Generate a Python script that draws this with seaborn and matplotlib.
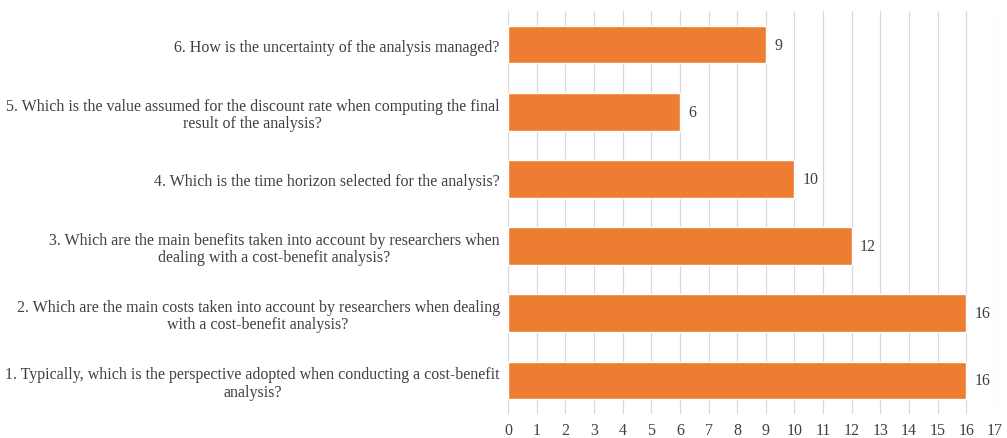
import matplotlib
matplotlib.use("Agg")
import matplotlib.pyplot as plt
import seaborn as sns
import pandas as pd

questions = [
    "6. How is the uncertainty of the analysis managed?",
    "5. Which is the value assumed for the discount rate when computing the final\nresult of the analysis?",
    "4. Which is the time horizon selected for the analysis?",
    "3. Which are the main benefits taken into account by researchers when\ndealing with a cost-benefit analysis?",
    "2. Which are the main costs taken into account by researchers when dealing\nwith a cost-benefit analysis?",
    "1. Typically, which is the perspective adopted when conducting a cost-benefit\nanalysis?",
]
counts = [9, 6, 10, 12, 16, 16]
x_ticks = list(range(0, 18))

df = pd.DataFrame({"question": questions, "count": counts})

sns.set_theme(style="white")
plt.rcParams["font.family"] = ["Liberation Serif", "DejaVu Serif"]

text_color = "#404040"
bar_color = "#ED7D31"

fig = plt.figure(figsize=(10.07, 4.39), dpi=100)
ax = fig.add_axes([0.5045, 0.0547, 0.4835, 0.918])

sns.barplot(data=df, y="question", x="count", order=questions, color=bar_color,
            saturation=1, width=0.56, ax=ax, orient="h")

ax.set_xlim(0, 17)
ax.set_ylim(5.5, -0.5)
ax.set_xticks(x_ticks)
ax.set_xlabel("")
ax.set_ylabel("")
ax.grid(axis="x", color="#d9d9d9", linewidth=0.9)
ax.set_axisbelow(True)
for s in ax.spines.values():
    s.set_visible(False)

ax.tick_params(axis="x", length=0, pad=6, labelsize=11.5, labelcolor=text_color)
ax.tick_params(axis="y", length=0, pad=6, labelsize=11.5, labelcolor=text_color)
for lbl in ax.get_yticklabels():
    lbl.set_multialignment("center")
    lbl.set_linespacing(1.1)

for container in ax.containers:
    ax.bar_label(container, labels=[str(v) for v in counts], padding=6,
                 fontsize=11.5, color=text_color)

fig.savefig("out.png", dpi=100)
